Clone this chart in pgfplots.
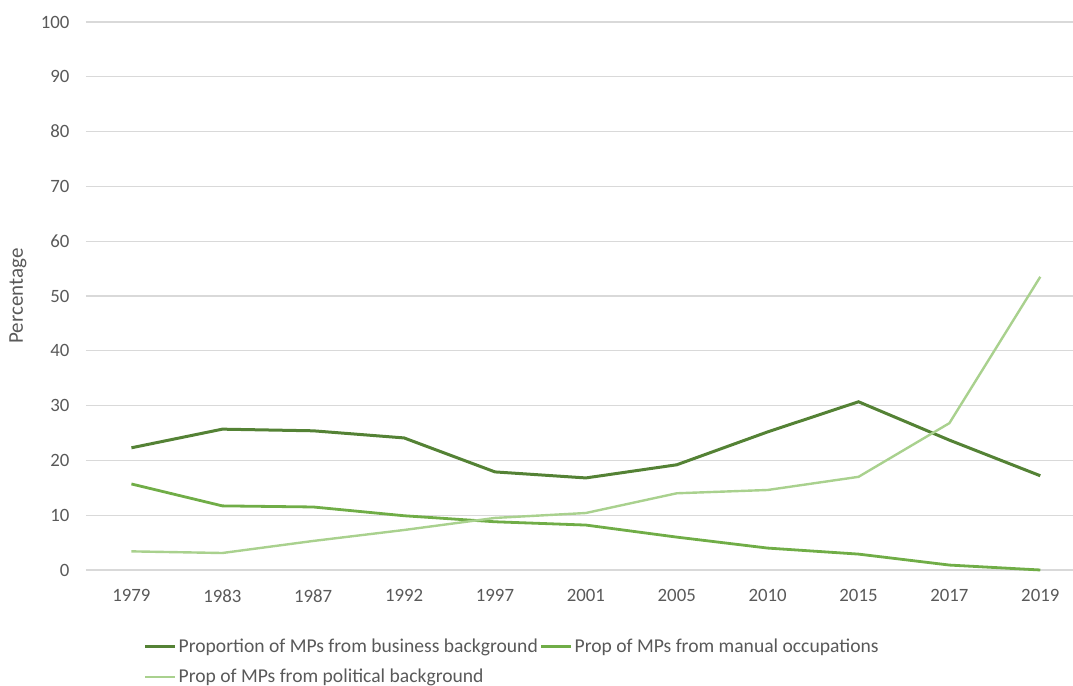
\documentclass[border=0pt]{standalone}
\usepackage{fontspec}
\setmainfont{Carlito}
\usepackage{pgfplots}
\pgfplotsset{compat=1.18}

\definecolor{business}{HTML}{548235}
\definecolor{manual}{HTML}{70AD47}
\definecolor{political}{HTML}{A9D18E}
\definecolor{gridgray}{HTML}{D9D9D9}
\definecolor{textgray}{HTML}{595959}

\begin{document}
\fontsize{9.2}{11}\selectfont
\begin{tikzpicture}
\path[use as bounding box] (0,0) rectangle (536.5pt,343pt);
\begin{axis}[
  at={(43pt,58pt)}, anchor=south west,
  scale only axis,
  width=493.5pt, height=274pt,
  xmin=-0.5, xmax=10.36,
  ymin=0, ymax=100,
  ytick={0,10,...,100},
  xtick={0,...,10},
  xticklabels={1979,1983,1987,1992,1997,2001,2005,2010,2015,2017,2019},
  axis line style={draw=none},
  tick style={draw=none},
  ymajorgrids,
  grid style={gridgray, line width=0.6pt},
  ticklabel style={font=\fontsize{9.4}{11}\selectfont, text=textgray},
  /pgf/number format/assume math mode=true,
  xticklabel style={yshift=-6.5pt},
  yticklabel style={xshift=-5pt},
  ylabel={Percentage},
  ylabel style={at={(axis description cs:-0.069,0.5)}, anchor=center, font=\fontsize{10.5}{12}\selectfont, text=textgray},
  clip=false,
  legend columns=2,
  legend cell align=left,
  legend style={
    at={(axis description cs:0.058,-0.121)}, anchor=north west,
    draw=none, fill=none,
    font=\fontsize{9.8}{11}\selectfont, text=textgray,
    inner sep=0pt,
    nodes={inner sep=1pt},
    row sep=5pt,
    /tikz/every odd column/.append style={column sep=0pt},
  },
  legend image code/.code={\draw[#1] (0pt,0pt) -- (15pt,0pt);},
]
\addplot[business, line width=1.5pt] coordinates {
  (0,22.3) (1,25.7) (2,25.4) (3,24.1) (4,17.9) (5,16.8)
  (6,19.2) (7,25.2) (8,30.7) (9,23.7) (10,17.2)};
\addlegendentry{Proportion of MPs from business background}
\addplot[manual, line width=1.4pt] coordinates {
  (0,15.7) (1,11.7) (2,11.5) (3,9.9) (4,8.8) (5,8.2)
  (6,6.0) (7,4.0) (8,2.9) (9,0.9) (10,0.0)};
\addlegendentry{Prop of MPs from manual occupations}
\addplot[political, line width=1.2pt] coordinates {
  (0,3.4) (1,3.1) (2,5.3) (3,7.3) (4,9.5) (5,10.4)
  (6,14.0) (7,14.6) (8,17.0) (9,26.8) (10,53.5)};
\addlegendentry{Prop of MPs from political background}
\end{axis}
\end{tikzpicture}
\end{document}
